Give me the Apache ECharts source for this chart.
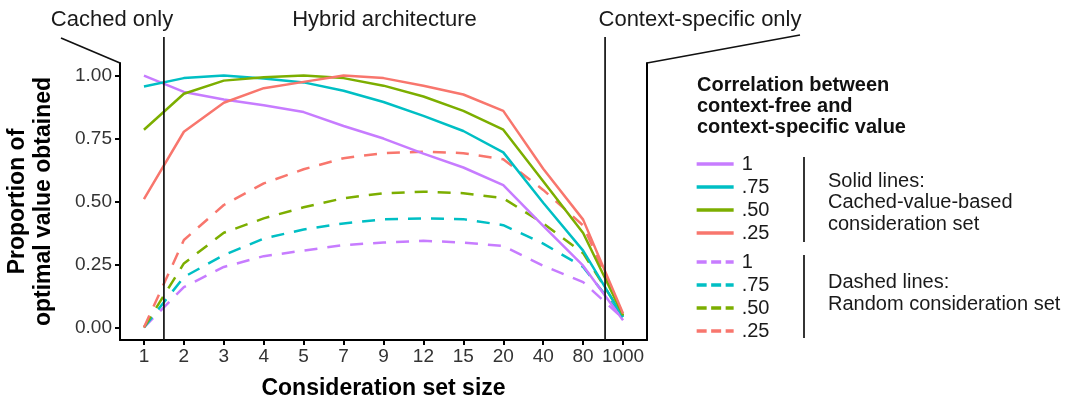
<!DOCTYPE html>
<html>
<head>
<meta charset="utf-8">
<script src="https://cdn.jsdelivr.net/npm/echarts@6/dist/echarts.min.js"></script>
<style>
  html, body { margin: 0; padding: 0; background: #ffffff; }
  #chart { width: 1073px; height: 406px; }
</style>
</head>
<body>
<div id="chart"></div>
<script>
// Consideration set sizes (x categories, evenly spaced)
const setSizes = ['1', '2', '3', '4', '5', '7', '9', '12', '15', '20', '40', '80', '1000'];
const yTicks = [0, 0.25, 0.5, 0.75, 1];

// Correlation between context-free and context-specific value
const correlations = ['1', '.75', '.50', '.25'];
const corrColors = ['#C77CFF', '#00BFC4', '#7CAE00', '#F8766D'];

// Cached-value-based consideration set (solid lines)
const cached_r100 = [1.00, 0.935, 0.905, 0.882, 0.855, 0.80, 0.75, 0.69, 0.635, 0.565, 0.403, 0.245, 0.028];
const cached_r075 = [0.957, 0.99, 1.00, 0.988, 0.973, 0.94, 0.895, 0.84, 0.78, 0.695, 0.495, 0.305, 0.041];
const cached_r050 = [0.785, 0.928, 0.98, 0.993, 1.00, 0.99, 0.96, 0.917, 0.86, 0.785, 0.58, 0.375, 0.048];
const cached_r025 = [0.509, 0.777, 0.892, 0.95, 0.975, 1.00, 0.99, 0.96, 0.925, 0.86, 0.63, 0.428, 0.055];

// Random consideration set (dashed lines)
const random_r100 = [0.00, 0.16, 0.24, 0.283, 0.305, 0.327, 0.337, 0.344, 0.337, 0.323, 0.245, 0.18, 0.035];
const random_r075 = [0.00, 0.20, 0.287, 0.353, 0.389, 0.413, 0.429, 0.433, 0.43, 0.406, 0.333, 0.24, 0.04];
const random_r050 = [0.00, 0.254, 0.376, 0.433, 0.477, 0.513, 0.533, 0.539, 0.533, 0.513, 0.413, 0.295, 0.045];
const random_r025 = [0.00, 0.347, 0.486, 0.572, 0.628, 0.672, 0.692, 0.698, 0.692, 0.668, 0.546, 0.405, 0.05];

// Region boundaries on the x scale (between category positions)
const cachedOnlyEdge = 1.5;
const contextOnlyEdge = 12.55;

const FONT = "'Liberation Sans', Arial, Helvetica, sans-serif";
const positions = setSizes.map((s, i) => i + 1);

const cachedSets = [cached_r100, cached_r075, cached_r050, cached_r025];
const randomSets = [random_r100, random_r075, random_r050, random_r025];

function toPoints(vals) {
  return vals.map((v, i) => [positions[i], v]);
}

function lineSeries(kind, idx, vals, dashed) {
  return {
    name: kind + '|' + correlations[idx],
    type: 'line',
    data: toPoints(vals),
    symbol: 'none',
    showSymbol: false,
    smooth: false,
    animation: false,
    silent: true,
    lineStyle: {
      color: corrColors[idx],
      width: 2.5,
      type: dashed ? [13, 10] : 'solid',
      cap: 'butt'
    },
    itemStyle: { color: corrColors[idx] },
    z: dashed ? 2 : 3
  };
}

const series = [];
randomSets.forEach((vals, i) => series.push(lineSeries('random', i, vals, true)));
cachedSets.forEach((vals, i) => series.push(lineSeries('cached', i, vals, false)));

const legendText = {
  fontFamily: FONT, fontSize: 20, color: '#1a1a1a', lineHeight: 20,
  padding: [0, 0, 0, 3]
};

const option = {
  backgroundColor: '#ffffff',
  animation: false,
  grid: { left: 120, right: 426, top: 63, bottom: 66, containLabel: false, outerBoundsMode: 'none' },
  xAxis: {
    type: 'value',
    min: 0.4,
    max: 13.6,
    splitLine: { show: false },
    axisLine: { show: true, onZero: false, lineStyle: { color: '#000', width: 2 } },
    axisTick: { show: true, customValues: positions, length: 5, lineStyle: { color: '#000', width: 2 } },
    axisLabel: {
      customValues: positions,
      formatter: v => setSizes[Math.round(v) - 1],
      fontFamily: FONT, fontSize: 19, color: '#333333', margin: 7
    },
    name: 'Consideration set size',
    nameLocation: 'middle',
    nameGap: 37,
    nameTextStyle: { fontFamily: FONT, fontSize: 23, fontWeight: 'bold', color: '#000' }
  },
  yAxis: [
    {
      type: 'value',
      min: -0.05,
      max: 1.05,
      splitLine: { show: false },
      axisLine: { show: true, onZero: false, lineStyle: { color: '#000', width: 2 } },
      axisTick: { show: true, customValues: yTicks, length: 5, lineStyle: { color: '#000', width: 2 } },
      axisLabel: {
        customValues: yTicks,
        formatter: v => v.toFixed(2),
        fontFamily: FONT, fontSize: 19, color: '#333333', margin: 8
      },
      name: 'Proportion of\noptimal value obtained',
      nameLocation: 'middle',
      nameGap: 63,
      nameRotate: 90,
      nameTextStyle: { fontFamily: FONT, fontSize: 23, fontWeight: 'bold', color: '#000', lineHeight: 26 }
    },
    {
      type: 'value',
      position: 'right',
      min: -0.05,
      max: 1.05,
      splitLine: { show: false },
      axisLine: { show: true, onZero: false, lineStyle: { color: '#000', width: 2 } },
      axisTick: { show: false },
      axisLabel: { show: false }
    }
  ],
  legend: [
    {
      data: correlations.map(c => 'cached|' + c),
      orient: 'vertical',
      left: 695, top: 154,
      itemWidth: 37, itemHeight: 20, itemGap: 3,
      padding: 0,
      selectedMode: false,
      formatter: n => n.split('|')[1],
      itemStyle: { opacity: 0 },
      lineStyle: { width: 3.3 },
      textStyle: legendText
    },
    {
      data: correlations.map(c => 'random|' + c),
      orient: 'vertical',
      left: 695, top: 252,
      itemWidth: 37, itemHeight: 20, itemGap: 3,
      padding: 0,
      selectedMode: false,
      formatter: n => n.split('|')[1],
      itemStyle: { opacity: 0 },
      lineStyle: { width: 3.3, type: [10, 4.5] },
      textStyle: legendText
    }
  ],
  series: series
};

const chart = echarts.init(document.getElementById('chart'), null, { renderer: 'canvas' });
chart.setOption(option);

// Annotation layer: region dividers, zoom connectors, headers and legend notes
const xPx = v => chart.convertToPixel({ xAxisIndex: 0 }, v);
const yPx = v => chart.convertToPixel({ yAxisIndex: 0 }, v);
const gLeft = xPx(0.4), gRight = xPx(13.6);
const gTop = yPx(1.05), gBottom = yPx(-0.05);
const xCached = xPx(cachedOnlyEdge), xContext = xPx(contextOnlyEdge);
const headerY = 19.5;

function seg(x1, y1, x2, y2, lw) {
  return { type: 'line', silent: true, shape: { x1, y1, x2, y2 },
           style: { stroke: '#111', lineWidth: lw || 1.7 }, z: 10 };
}
function label(text, x, y, opts) {
  return {
    type: 'text', silent: true, x, y, z: 10,
    style: Object.assign({ text, fontFamily: FONT, fontSize: 22, fill: '#1a1a1a',
                           align: 'center', verticalAlign: 'middle' }, opts || {})
  };
}

chart.setOption({
  graphic: [
    seg(xCached, 37, xCached, gBottom),
    seg(xContext, 37, xContext, gBottom),
    seg(61, 38, gLeft, gTop),
    seg(gRight, gTop, 800, 35),
    label('Cached only', 112, headerY),
    label('Hybrid architecture', (xCached + xContext) / 2, headerY),
    label('Context-specific only', 700, headerY),
    {
      type: 'text', silent: true, x: 697, y: 74.5, z: 10,
      style: {
        text: 'Correlation between\ncontext-free and\ncontext-specific value',
        fontFamily: FONT, fontSize: 20, fontWeight: 'bold', fill: '#111',
        lineHeight: 21, align: 'left', verticalAlign: 'top'
      }
    },
    seg(804, 157, 804, 242),
    seg(804, 255, 804, 338),
    {
      type: 'text', silent: true, x: 828, y: 171, z: 10,
      style: {
        text: 'Solid lines:\nCached-value-based\nconsideration set',
        fontFamily: FONT, fontSize: 20, fill: '#1a1a1a',
        lineHeight: 21.3, align: 'left', verticalAlign: 'top'
      }
    },
    {
      type: 'text', silent: true, x: 828, y: 272, z: 10,
      style: {
        text: 'Dashed lines:\nRandom consideration set',
        fontFamily: FONT, fontSize: 20, fill: '#1a1a1a',
        lineHeight: 21.6, align: 'left', verticalAlign: 'top'
      }
    }
  ]
});
</script>
</body>
</html>
